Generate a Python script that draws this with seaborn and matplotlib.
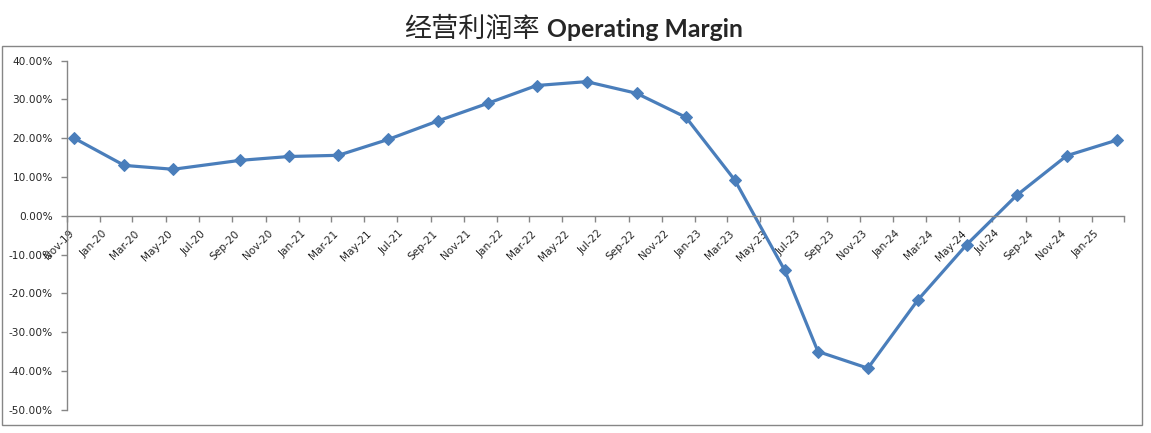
import matplotlib
matplotlib.use('Agg')
import matplotlib.pyplot as plt
import matplotlib.patches as patches
from matplotlib.ticker import FuncFormatter
from matplotlib.transforms import ScaledTranslation
import pandas as pd
import seaborn as sns

# Quarterly operating margin readings
dates = ['2019-11-15', '2020-02-15', '2020-05-15', '2020-09-15', '2020-12-15',
         '2021-03-15', '2021-06-15', '2021-09-15', '2021-12-15', '2022-03-15',
         '2022-06-15', '2022-09-15', '2022-12-15', '2023-03-15', '2023-06-15',
         '2023-08-15', '2023-11-15', '2024-02-15', '2024-05-15', '2024-08-15',
         '2024-11-15', '2025-02-15']
margin = [0.200, 0.130, 0.120, 0.143, 0.153,
          0.156, 0.197, 0.245, 0.290, 0.336,
          0.346, 0.316, 0.254, 0.092, -0.141,
          -0.350, -0.393, -0.217, -0.074, 0.053,
          0.155, 0.195]
y_ticks = [0.4, 0.3, 0.2, 0.1, 0.0, -0.1, -0.2, -0.3, -0.4, -0.5]
title_cn = '经营利润率'
title_en = 'Operating Margin'

df = pd.DataFrame({'date': pd.to_datetime(dates), 'margin': margin})

sns.set_style('white')
plt.rcParams['font.family'] = ['DejaVu Sans', 'Noto Sans CJK SC']

W, H = 1151, 433
fig = plt.figure(figsize=(W / 100, H / 100), dpi=100)
ax = fig.add_axes([66.7 / W, 1 - 409.7 / H, (1124.3 - 66.7) / W, (409.7 - 60.7) / H])

line_color = '#4a7ebb'
sns.lineplot(data=df, x='date', y='margin', ax=ax, color=line_color,
             linewidth=2.3, marker='D', markersize=6.5,
             markeredgecolor=line_color, markerfacecolor=line_color)

ax.set_xlim(pd.Timestamp('2019-11-01'), pd.Timestamp('2025-03-01'))
ax.set_ylim(-0.5, 0.4)
ax.set_yticks(y_ticks)
ax.yaxis.set_major_formatter(FuncFormatter(lambda v, _: f'{v * 100:.2f}%'))

# tick every two months; the last one (Mar-25) has no label
xt = pd.date_range('2019-11-01', '2025-03-01', freq='2MS')
ax.set_xticks(xt)
ax.set_xticklabels([d.strftime('%b-%y') for d in xt[:-1]] + [''])

ax.set_xlabel('')
ax.set_ylabel('')

grey = '#868686'
for s in ['top', 'right']:
    ax.spines[s].set_visible(False)
for s in ['left', 'bottom']:
    ax.spines[s].set_color(grey)
    ax.spines[s].set_linewidth(1)
ax.spines['bottom'].set_position(('data', 0))

ax.tick_params(axis='y', direction='out', length=4, width=1, color=grey,
               labelsize=7.6, pad=6, left=True)
ax.tick_params(axis='x', direction='out', length=4, width=1, color=grey,
               labelsize=7.6, pad=5, bottom=True)
shift = ScaledTranslation(9 / 100, 0, fig.dpi_scale_trans)
for lab in ax.get_xticklabels():
    lab.set_rotation(45)
    lab.set_ha('right')
    lab.set_transform(lab.get_transform() + shift)

# chart-area border
fig.add_artist(patches.Rectangle((2 / W, 1 - 425 / H), (1142 - 2) / W, (425 - 46) / H,
                                 transform=fig.transFigure, fill=False,
                                 edgecolor=grey, linewidth=1))

fig.text(540 / W, 1 - 37 / H, title_cn, ha='right', va='baseline',
         fontsize=19.5, family=['Noto Sans CJK SC'])
fig.text(547 / W, 1 - 37 / H, title_en, ha='left', va='baseline',
         fontsize=17.8, fontweight='bold', family=['Lato', 'DejaVu Sans'])

fig.savefig('out.png', dpi=100)
